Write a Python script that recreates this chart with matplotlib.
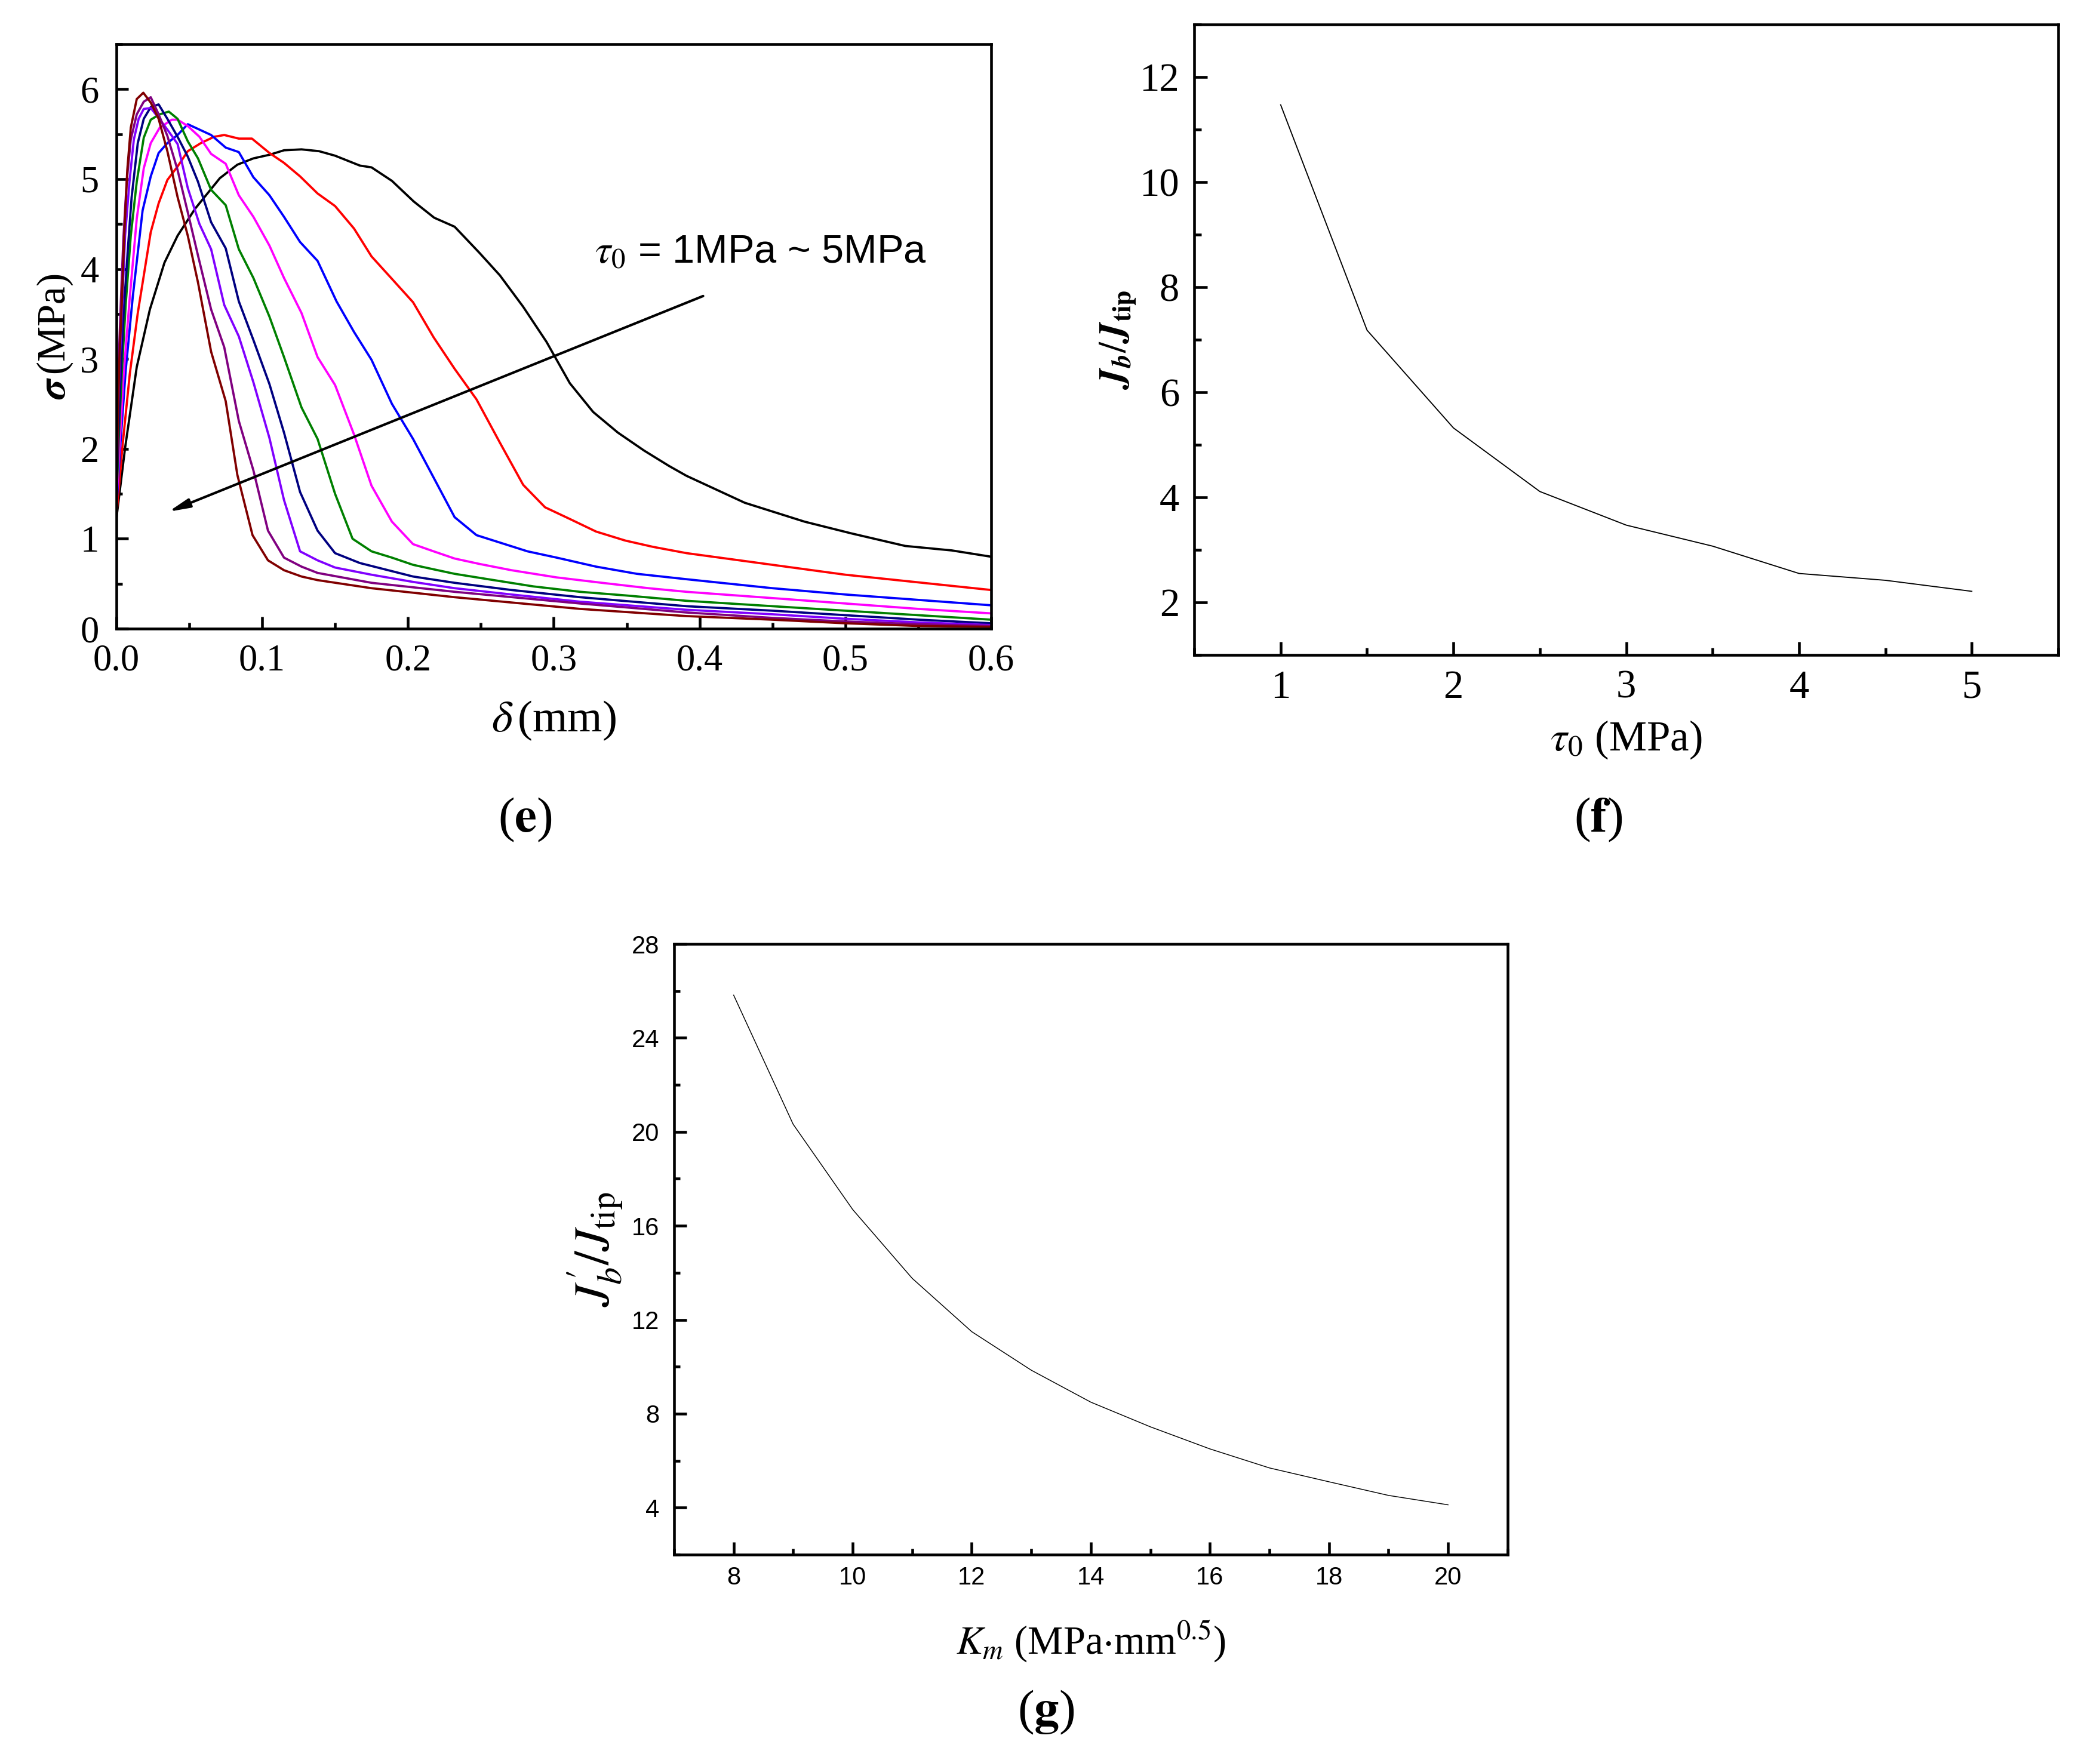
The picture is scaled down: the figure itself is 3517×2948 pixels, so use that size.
import matplotlib
matplotlib.use("Agg")
from matplotlib import pyplot as plt
from matplotlib.ticker import MultipleLocator, FormatStrFormatter

plt.rcParams["font.family"] = ["Liberation Serif", "DejaVu Serif"]
plt.rcParams["mathtext.fontset"] = "stix"

# ---- panel (e): cohesive law for tau0 = 1 ... 5 MPa ----
tau_values = [1, 1.5, 2, 2.5, 3, 3.5, 4, 4.5, 5]
curve_colors = ["#000000", "#FF0000", "#0000FF", "#FF00FF", "#008000",
                "#000080", "#8000FF", "#800080", "#800000"]

d_black = [0, 0.006, 0.014, 0.023, 0.033, 0.042, 0.054, 0.071, 0.083, 0.094, 0.105, 0.115,
           0.127, 0.139, 0.150, 0.167, 0.175, 0.189, 0.204, 0.218, 0.232, 0.249, 0.263,
           0.279, 0.295, 0.311, 0.327, 0.344, 0.362, 0.379, 0.391, 0.431, 0.472, 0.504,
           0.541, 0.573, 0.6]
s_black = [1.22, 2.01, 2.91, 3.55, 4.07, 4.37, 4.67, 5.01, 5.16, 5.23, 5.27, 5.32,
           5.33, 5.31, 5.26, 5.15, 5.13, 4.98, 4.75, 4.57, 4.47, 4.18, 3.93,
           3.58, 3.19, 2.73, 2.41, 2.18, 1.98, 1.81, 1.70, 1.40, 1.19, 1.06,
           0.92, 0.87, 0.80]

d_red = [0, 0.0044, 0.0092, 0.0147, 0.0236, 0.029, 0.035, 0.042, 0.049, 0.058, 0.067, 0.074,
         0.084, 0.093, 0.105, 0.115, 0.126, 0.138, 0.150, 0.163, 0.175, 0.189, 0.2035,
         0.2176, 0.232, 0.247, 0.263, 0.279, 0.294, 0.311, 0.329, 0.349, 0.368, 0.391,
         0.45, 0.5, 0.6]
s_red = [1.24, 2.06, 2.83, 3.51, 4.41, 4.73, 4.99, 5.14, 5.31, 5.40, 5.47, 5.49,
         5.45, 5.45, 5.29, 5.18, 5.03, 4.84, 4.70, 4.45, 4.14, 3.89, 3.63,
         3.24, 2.89, 2.55, 2.07, 1.60, 1.35, 1.22, 1.08, 0.98, 0.91, 0.84,
         0.71, 0.60, 0.43]

d_blue = [0, 0.003, 0.0064, 0.0112, 0.018, 0.0236, 0.029, 0.035, 0.042, 0.049, 0.057, 0.065,
          0.075, 0.084, 0.094, 0.105, 0.115, 0.126, 0.138, 0.151, 0.163, 0.175, 0.189,
          0.2035, 0.2176, 0.232, 0.247, 0.2645, 0.282, 0.302, 0.329, 0.357, 0.391,
          0.45, 0.5, 0.55, 0.6]
s_blue = [1.33, 2.10, 2.87, 3.68, 4.65, 5.03, 5.29, 5.40, 5.49, 5.61, 5.55, 5.49,
          5.35, 5.30, 5.02, 4.82, 4.58, 4.30, 4.09, 3.64, 3.30, 2.99, 2.50,
          2.11, 1.68, 1.24, 1.04, 0.95, 0.86, 0.79, 0.69, 0.61, 0.55,
          0.45, 0.38, 0.32, 0.26]

d_magenta = [0, 0.0023, 0.005, 0.0092, 0.014, 0.0188, 0.0236, 0.0297, 0.038, 0.042, 0.049,
             0.057, 0.065, 0.075, 0.084, 0.094, 0.105, 0.115, 0.127, 0.138, 0.150, 0.163,
             0.175, 0.189, 0.2035, 0.2176, 0.232, 0.249, 0.271, 0.302, 0.333, 0.365, 0.391,
             0.45, 0.5, 0.55, 0.6]
s_magenta = [1.37, 2.06, 2.83, 3.68, 4.56, 5.12, 5.40, 5.57, 5.66, 5.66, 5.59,
             5.47, 5.28, 5.17, 4.82, 4.58, 4.26, 3.90, 3.51, 3.02, 2.71, 2.16,
             1.59, 1.19, 0.94, 0.86, 0.78, 0.72, 0.65, 0.57, 0.51, 0.45, 0.41,
             0.34, 0.28, 0.22, 0.17]

d_green = [0, 0.0016, 0.0037, 0.0064, 0.0099, 0.014, 0.0188, 0.0236, 0.0297, 0.036, 0.042,
           0.049, 0.056, 0.065, 0.075, 0.084, 0.094, 0.105, 0.115, 0.127, 0.138, 0.150,
           0.162, 0.175, 0.189, 0.2035, 0.2176, 0.232, 0.255, 0.286, 0.318, 0.349, 0.391,
           0.45, 0.5, 0.55, 0.6]
s_green = [1.40, 2.10, 2.83, 3.60, 4.37, 4.97, 5.46, 5.66, 5.72, 5.75, 5.67,
           5.42, 5.23, 4.88, 4.71, 4.22, 3.90, 3.47, 3.02, 2.46, 2.11, 1.50,
           1.00, 0.86, 0.79, 0.71, 0.66, 0.61, 0.55, 0.47, 0.41, 0.37, 0.31,
           0.25, 0.20, 0.15, 0.10]

d_navy = [0, 0.0012, 0.003, 0.005, 0.0078, 0.0105, 0.0147, 0.0188, 0.0236, 0.029, 0.035,
          0.042, 0.049, 0.056, 0.065, 0.075, 0.084, 0.094, 0.105, 0.115, 0.126, 0.138,
          0.150, 0.167, 0.2035, 0.232, 0.271, 0.318, 0.391, 0.45, 0.5, 0.55, 0.6]
s_navy = [1.45, 2.10, 2.83, 3.51, 4.20, 4.80, 5.40, 5.67, 5.80, 5.83, 5.67,
          5.47, 5.25, 4.97, 4.52, 4.23, 3.64, 3.21, 2.72, 2.18, 1.52, 1.09,
          0.84, 0.73, 0.58, 0.51, 0.43, 0.35, 0.25, 0.20, 0.15, 0.10, 0.06]

d_violet = [0, 0.001, 0.0023, 0.004, 0.006, 0.009, 0.012, 0.0153, 0.0188, 0.0236, 0.029,
            0.035, 0.042, 0.049, 0.057, 0.065, 0.074, 0.084, 0.094, 0.105, 0.115, 0.126,
            0.138, 0.150, 0.175, 0.2035, 0.232, 0.271, 0.318, 0.391, 0.45, 0.5,
            0.55, 0.6]
s_violet = [1.45, 2.30, 2.95, 3.60, 4.37, 4.97, 5.44, 5.67, 5.78, 5.79, 5.68,
            5.55, 5.39, 4.90, 4.50, 4.22, 3.60, 3.25, 2.74, 2.12, 1.43, 0.86,
            0.76, 0.68, 0.60, 0.52, 0.45, 0.38, 0.30, 0.21, 0.16, 0.11,
            0.07, 0.04]

d_purple = [0, 0.0007, 0.0016, 0.003, 0.0048, 0.0071, 0.0099, 0.014, 0.0188, 0.0236, 0.029,
            0.035, 0.042, 0.049, 0.056, 0.065, 0.074, 0.084, 0.094, 0.104, 0.115, 0.127,
            0.138, 0.175, 0.232, 0.318, 0.391, 0.45, 0.5, 0.55, 0.6]
s_purple = [1.50, 2.30, 2.95, 3.60, 4.33, 4.97, 5.44, 5.72, 5.86, 5.91, 5.72,
            5.48, 5.10, 4.63, 4.15, 3.55, 3.13, 2.31, 1.76, 1.09, 0.79, 0.69,
            0.62, 0.51, 0.41, 0.28, 0.18, 0.12, 0.08, 0.05, 0.03]

d_wine = [0, 0.001, 0.002, 0.0037, 0.0055, 0.0075, 0.0099, 0.014, 0.0185, 0.0236, 0.029,
          0.035, 0.042, 0.049, 0.056, 0.065, 0.075, 0.083, 0.0934, 0.104, 0.115, 0.127,
          0.138, 0.175, 0.232, 0.318, 0.391, 0.45, 0.5, 0.55, 0.6]
s_wine = [1.22, 2.30, 2.95, 3.60, 4.40, 5.10, 5.57, 5.89, 5.96, 5.85, 5.67,
          5.31, 4.80, 4.37, 3.85, 3.08, 2.53, 1.71, 1.04, 0.76, 0.65, 0.58,
          0.54, 0.45, 0.35, 0.22, 0.14, 0.10, 0.06, 0.03, 0.02]

curves_d = [d_black, d_red, d_blue, d_magenta, d_green, d_navy, d_violet, d_purple, d_wine]
curves_s = [s_black, s_red, s_blue, s_magenta, s_green, s_navy, s_violet, s_purple, s_wine]

# ---- panel (f): J_b/J_tip vs tau0 ----
tau0 = [1, 1.5, 2, 2.5, 3, 3.5, 4, 4.5, 5]
jb_ratio = [11.47, 7.18, 5.32, 4.11, 3.47, 3.07, 2.55, 2.42, 2.21]

# ---- panel (g): J'_b/J_tip vs K_m ----
km = [8, 9, 10, 11, 12, 13, 14, 15, 16, 17, 18, 19, 20]
jb2_ratio = [25.82, 20.32, 16.69, 13.76, 11.49, 9.85, 8.49, 7.44, 6.50, 5.69, 5.10, 4.52, 4.12]

fig = plt.figure(figsize=(3517 / 300, 2948 / 300), dpi=300)


def style_axes(ax, labelsize, xpad, ypad, major_len, minor_len):
    # inward ticks on left/bottom only, Origin-like frame
    ax.tick_params(which="both", direction="in", top=False, right=False,
                   labelsize=labelsize, width=1.1)
    ax.tick_params(which="major", length=major_len)
    ax.tick_params(which="minor", length=minor_len)
    ax.tick_params(axis="x", which="major", pad=xpad)
    ax.tick_params(axis="y", which="major", pad=ypad)
    for sp in ax.spines.values():
        sp.set_linewidth(1.1)


def center_labels(ax, xpos, ypos):
    # put axis labels at fixed axes-fraction positions
    ax.xaxis.set_label_coords(0.5, xpos)
    ax.yaxis.set_label_coords(ypos, 0.5)
    ax.xaxis.label.set_va("center")
    ax.yaxis.label.set_va("center")


# panel (e)
ax_e = fig.add_axes([0.0554, 0.6428, 0.4166, 0.3321])
for d, s, c in zip(curves_d, curves_s, curve_colors):
    ax_e.plot(d, s, color=c, lw=0.9)
ax_e.set_xlim(0, 0.6)
ax_e.set_ylim(0, 6.5)
ax_e.xaxis.set_major_locator(MultipleLocator(0.1))
ax_e.xaxis.set_minor_locator(MultipleLocator(0.05))
ax_e.yaxis.set_major_locator(MultipleLocator(1))
ax_e.yaxis.set_minor_locator(MultipleLocator(0.5))
ax_e.xaxis.set_major_formatter(FormatStrFormatter("%.1f"))
ax_e.yaxis.set_major_formatter(FormatStrFormatter("%d"))
style_axes(ax_e, 15, 6, 7, 4.8, 2.4)
ax_e.set_xlabel(r"$\delta\,$(mm)", fontsize=18)
ax_e.set_ylabel(r"$\boldsymbol{\sigma}\,$(MPa)", fontsize=16)
center_labels(ax_e, -0.157, -0.070)
ax_e.annotate("", xy=(0.0326, 1.28), xytext=(0.4056, 3.72),
              arrowprops=dict(arrowstyle="-|>,head_length=0.7,head_width=0.15",
                              color="black", lw=1.0))
ax_e.text(0.328, 4.18, r"$\tau_0$ = 1MPa ~ 5MPa", fontsize=16,
          family=["Liberation Sans", "DejaVu Sans"], va="center")

# panel (f)
ax_f = fig.add_axes([0.5687, 0.6279, 0.4114, 0.3582])
ax_f.plot(tau0, jb_ratio, color="black", lw=0.45)
ax_f.set_xlim(0.5, 5.5)
ax_f.set_ylim(1, 13)
ax_f.xaxis.set_major_locator(MultipleLocator(1))
ax_f.xaxis.set_minor_locator(MultipleLocator(0.5))
ax_f.yaxis.set_major_locator(MultipleLocator(2))
ax_f.yaxis.set_minor_locator(MultipleLocator(1))
style_axes(ax_f, 16, 6, 6, 5.2, 2.8)
ax_f.set_xlabel(r"$\tau_0$ (MPa)", fontsize=17)
ax_f.set_ylabel(r"$\mathbfit{J}_{\mathbfit{b}}/\mathbfit{J}_{\mathbf{tip}}$", fontsize=15.5)
center_labels(ax_f, -0.135, -0.088)

# panel (g)
ax_g = fig.add_axes([0.3210, 0.1167, 0.3969, 0.3470])
ax_g.plot(km, jb2_ratio, color="black", lw=0.35)
ax_g.set_xlim(7, 21)
ax_g.set_ylim(2, 28)
ax_g.xaxis.set_major_locator(MultipleLocator(2))
ax_g.xaxis.set_minor_locator(MultipleLocator(1))
ax_g.yaxis.set_major_locator(MultipleLocator(4))
ax_g.yaxis.set_minor_locator(MultipleLocator(2))
style_axes(ax_g, 10, 4.6, 5.9, 5.0, 2.5)
for lab in ax_g.get_xticklabels() + ax_g.get_yticklabels():
    lab.set_family(["Liberation Sans", "DejaVu Sans"])
ax_g.set_xlabel(r"$K_m$ (MPa$\cdot$mm$^{0.5}$)", fontsize=16)
ax_g.set_ylabel(r"$J_b^{\prime}/J_{\mathrm{tip}}$", fontsize=20)
center_labels(ax_g, -0.142, -0.094)

# panel letters
fig.text(0.250, 0.534, r"($\mathbf{e}$)", fontsize=20, ha="center", va="center")
fig.text(0.761, 0.534, r"($\mathbf{f}$)", fontsize=20, ha="center", va="center")
fig.text(0.498, 0.027, r"($\mathbf{g}$)", fontsize=20, ha="center", va="center")

fig.savefig("out.png", dpi=300)
